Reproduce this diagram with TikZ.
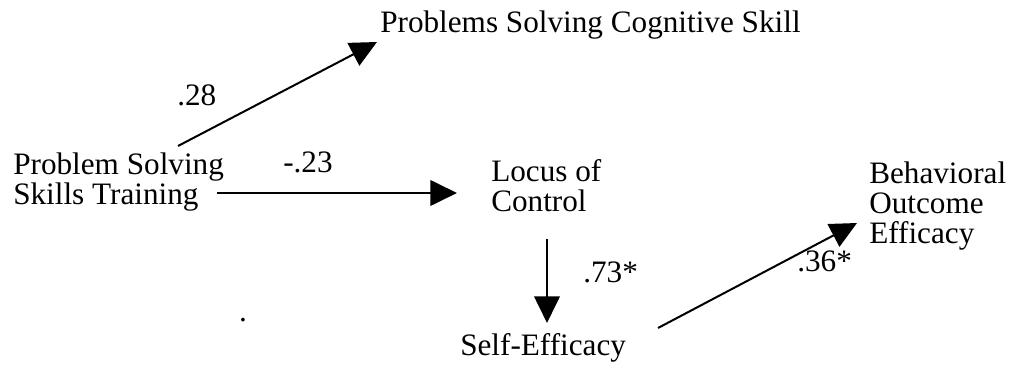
\documentclass[tikz,border=0pt]{standalone}
\usepackage{fontspec}
\setmainfont{Liberation Serif}
\usetikzlibrary{arrows.meta}
\begin{document}
\begin{tikzpicture}[x=0.75pt,y=-0.75pt,
  lbl/.style={inner sep=0pt,anchor=base west,align=left,font=\fontsize{23.4pt}{22.5pt}\selectfont},
  thin arrow/.style={line width=1.5pt,-{Triangle[length=20pt,width=19pt]}},
  thick arrow/.style={line width=2.2pt,-{Triangle[length=20pt,width=19pt]}}]
\useasboundingbox (0,0) rectangle (1013,366);
% nodes (base anchor of a multi-line node = baseline of its last line)
\node[lbl] (cog) at (380,33) {Problems Solving Cognitive Skill};
\node[lbl] (pst) at (13,205) {Problem Solving\\Skills Training};
\node[lbl] (loc) at (491,212) {Locus of\\Control};
\node[lbl] (self) at (460,355) {Self-Efficacy};
\node[lbl] (beh) at (869,244) {Behavioral\\Outcome\\Efficacy};
% end points of connectors
\coordinate (a1s) at (178,146);
\coordinate (a1e) at (377,42);
\coordinate (a2s) at (217,193);
\coordinate (a2e) at (457,193);
\coordinate (a3s) at (547,239);
\coordinate (a3e) at (547,323);
\coordinate (a4s) at (658,328);
\coordinate (a4e) at (857,223);
% connectors
\draw[thin arrow] (a1s) -- (a1e);
\draw[thick arrow] (a2s) -- (a2e);
\draw[thick arrow] (a3s) -- (a3e);
\draw[thin arrow] (a4s) -- (a4e);
% labels
\node[lbl] (l28) at (177,106) {.28};
\node[lbl] (l23) at (283,173) {-.23};
\node[lbl] (l73) at (583,283) {.73*};
\node[lbl] (l36) at (797,272) {.36*};
\node[lbl,anchor=base] (dot) at (243,322) {.};
\end{tikzpicture}
\end{document}
